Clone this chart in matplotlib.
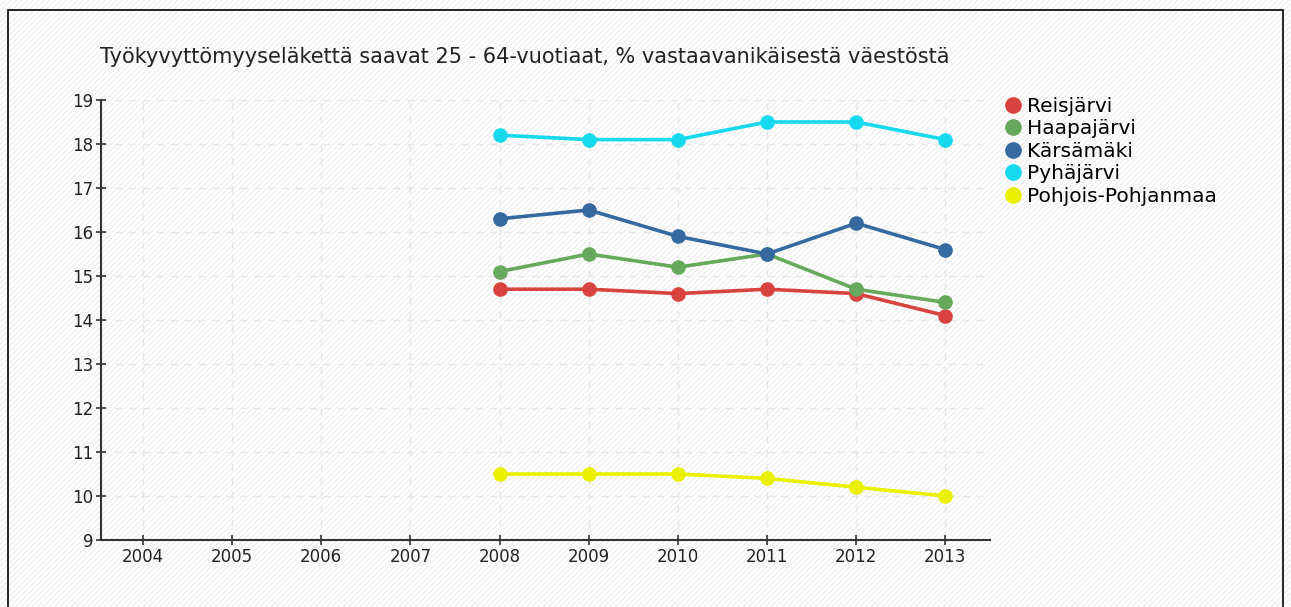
import matplotlib
matplotlib.use("Agg")
import matplotlib.pyplot as plt
from matplotlib.patches import Rectangle

years = [2008, 2009, 2010, 2011, 2012, 2013]
reisjarvi = [14.7, 14.7, 14.6, 14.7, 14.6, 14.1]
haapajarvi = [15.1, 15.5, 15.2, 15.5, 14.7, 14.4]
karsamaki = [16.3, 16.5, 15.9, 15.5, 16.2, 15.6]
pyhajarvi = [18.2, 18.1, 18.1, 18.5, 18.5, 18.1]
pohjois_pohjanmaa = [10.5, 10.5, 10.5, 10.4, 10.2, 10.0]

series = [
    ("Reisjärvi", reisjarvi, "#d9433f"),
    ("Haapajärvi", haapajarvi, "#67a95c"),
    ("Kärsämäki", karsamaki, "#35699f"),
    ("Pyhäjärvi", pyhajarvi, "#16d9ee"),
    ("Pohjois-Pohjanmaa", pohjois_pohjanmaa, "#eaf000"),
]
xticks = list(range(2004, 2014))
yticks = list(range(9, 20))
title = "Työkyvyttömyyseläkettä saavat 25 - 64-vuotiaat, % vastaavanikäisestä väestöstä"

plt.rcParams['font.family'] = ['DejaVu Sans']
fig = plt.figure(figsize=(12.91, 6.07), dpi=100)

# faint diagonal hatch background + frame
bg = Rectangle((0, 0), 1, 1, transform=fig.transFigure, facecolor="white",
               edgecolor="#efefef", hatch="//////", linewidth=0, zorder=-10)
fig.patches.append(bg)
frame = Rectangle((8 / 1291, -0.05), (1283 - 8) / 1291, 1.05 - 10 / 607,
                  transform=fig.transFigure, fill=False, edgecolor="black",
                  linewidth=1.2, zorder=-5)
fig.patches.append(frame)

ax = fig.add_axes([101 / 1291, (607 - 540) / 607, (990 - 101) / 1291, 440 / 607])
ax.set_facecolor("none")

for name, vals, col in series:
    ax.plot(years, vals, color=col, linewidth=2.6, marker="o", markersize=9.5,
            label=name, solid_capstyle="round")

ax.set_xlim(2003.53, 2013.5)
ax.set_ylim(9, 19)
ax.set_xticks(xticks)
ax.set_yticks(yticks)
ax.grid(True, linestyle=(0, (5, 5)), color="#e6e6e6", linewidth=1)
ax.set_axisbelow(True)
for s in ["top", "right"]:
    ax.spines[s].set_visible(False)
for s in ["left", "bottom"]:
    ax.spines[s].set_color("#333333")
    ax.spines[s].set_linewidth(1.5)
ax.tick_params(axis="both", direction="inout", length=7, width=1.2,
               color="#333333", labelsize=12, labelcolor="#222222", pad=2)

fig.text(100 / 1291, 1 - 57 / 607, title, fontsize=15, color="#222222",
         va="center", ha="left")

leg = ax.legend(loc="upper left", bbox_to_anchor=(1004 / 1291, 1 - 97 / 607),
                bbox_transform=fig.transFigure, frameon=False, fontsize=14.5,
                handlelength=0.85, handletextpad=0.3, labelspacing=0.17,
                borderaxespad=0, borderpad=0)
for h in leg.legend_handles:
    h.set_linestyle("none")
    h.set_markersize(11)

fig.savefig("out.png", dpi=100)
